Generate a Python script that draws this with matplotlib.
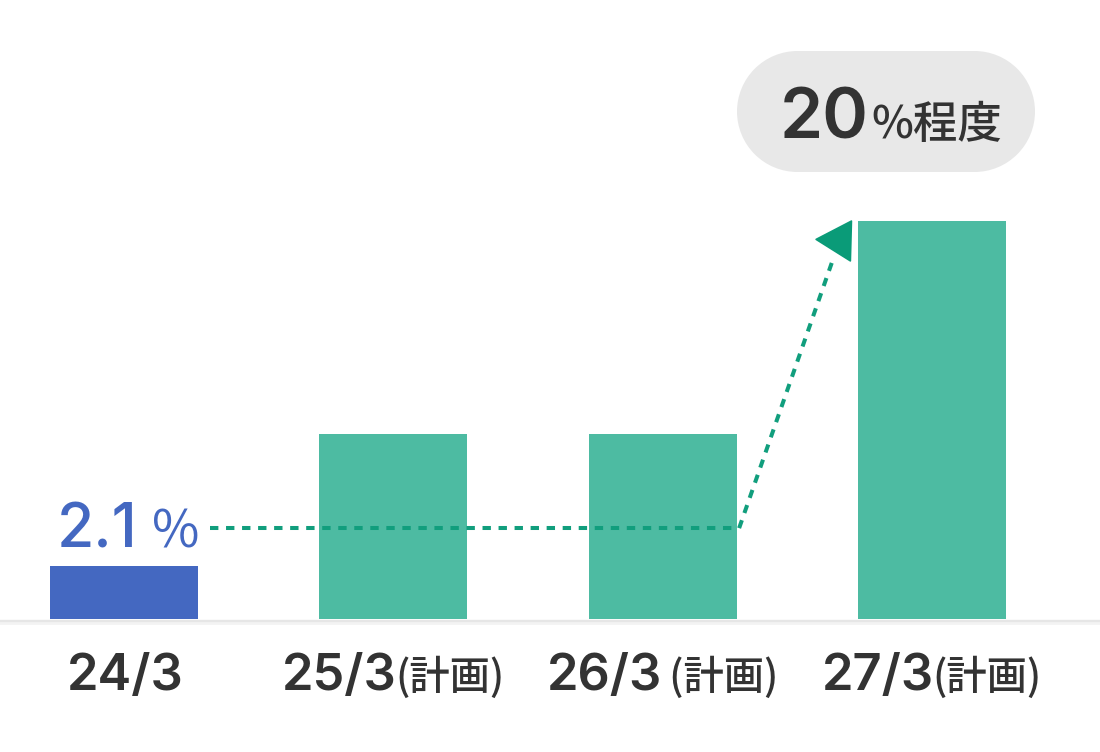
import matplotlib
matplotlib.use("Agg")
import matplotlib.pyplot as plt
from matplotlib.patches import Rectangle, Circle, Polygon

plt.rcParams['font.family'] = ['Noto Sans CJK JP', 'DejaVu Sans']
NUM_FONT = ['Inter', 'Noto Sans CJK JP', 'DejaVu Sans']
CJK_FONT = ['Noto Sans CJK JP', 'DejaVu Sans']

# ---- data ----
categories_main = ["24/3", "25/3", "26/3", "27/3"]
categories_note = ["", "(計画)", " (計画)", "(計画)"]
bar_values = [2.66, 9.3, 9.3, 20.0]          # schematic heights
bar_colors = ["#4468C1", "#4DBBA2", "#4DBBA2", "#4DBBA2"]
start_label_num = "2.1"
target_label_num = "20"
pct_sign = "%"
target_suffix = "%程度"

TEXT = "#333333"
DASH = "#119E7D"

fig = plt.figure(figsize=(11, 7.52), dpi=100)
ax = fig.add_axes([0, 0, 1, 1])
ax.set_xlim(-0.4605, 3.624)
ax.set_ylim(-6.68, 31.11)
ax.axis("off")

x = list(range(len(categories_main)))
bw = 0.55
ax.bar(x, bar_values, width=bw, color=bar_colors, zorder=2)

# baseline
ax.axhline(-0.09, color="#E6E6E6", lw=2.4, zorder=1)
ax.axhline(-0.22, color="#F3F3F3", lw=2.0, zorder=1)

fig.canvas.draw()
renderer = fig.canvas.get_renderer()


def two_part(xc, y, p1, s1, p2, s2, color, gap=0, w1="semibold", w2="medium",
             f1=NUM_FONT, f2=CJK_FONT):
    t1 = ax.text(xc, y, p1, fontsize=s1, color=color, ha="left", va="baseline",
                 fontweight=w1, family=f1, zorder=5)
    t2 = ax.text(xc, y, p2, fontsize=s2, color=color, ha="left", va="baseline",
                 fontweight=w2, family=f2, zorder=5)
    e1 = t1.get_window_extent(renderer).width if p1 else 0
    e2 = t2.get_window_extent(renderer).width if p2 else 0
    xd, yd = ax.transData.transform((xc, y))
    start = xd - (e1 + gap + e2) / 2
    inv = ax.transData.inverted()
    t1.set_x(inv.transform((start, yd))[0])
    t2.set_x(inv.transform((start + e1 + gap, yd))[0])
    return t1, t2


# category labels
for i in x:
    two_part(i, -3.57, categories_main[i], 36.5, categories_note[i], 29, TEXT, gap=-2)

# 2.1% label above first bar
two_part(x[0] + 0.015, 3.62, start_label_num, 43.5, pct_sign, 37, bar_colors[0], gap=14,
         w1="medium", w2="normal")

# dashed path
y_line = 4.57
dash_style = (0, (2.08, 1.9))
x_corner = x[2] + bw / 2 + 0.009
ax.plot([x[0] + 0.32, x_corner], [y_line, y_line],
        color=DASH, lw=2.9, linestyle=dash_style, dash_capstyle="butt", zorder=3)
ax.plot([x_corner, x[3] - bw / 2 - 0.096], [y_line, bar_values[3] - 2.06],
        color=DASH, lw=2.9, linestyle=dash_style, dash_capstyle="butt", zorder=3)

# arrow head near top-left of last bar
left4 = x[3] - bw / 2
tri = Polygon([[left4 - 0.155, bar_values[3] - 0.92],
               [left4 - 0.024, bar_values[3]],
               [left4 - 0.028, bar_values[3] - 2.0]],
              closed=True, facecolor="#0A9B78", edgecolor="#0A9B78",
              lw=1.2, joinstyle="round", zorder=4)
ax.add_patch(tri)

# pill callout (inches, figure coordinates)
px0, py0, pw, ph = 7.37, 5.80, 2.98, 1.21
r = ph / 2
pill_kw = dict(transform=fig.dpi_scale_trans, facecolor="#E8E8E8",
               edgecolor="none", zorder=3)
ax.add_patch(Rectangle((px0 + r, py0), pw - 2 * r, ph, **pill_kw))
ax.add_patch(Circle((px0 + r, py0 + r), r, **pill_kw))
ax.add_patch(Circle((px0 + pw - r, py0 + r), r, **pill_kw))

t1 = ax.text(0, 24.17, target_label_num, fontsize=50, color=TEXT, family=NUM_FONT,
             ha="left", va="baseline", fontweight="semibold", zorder=5)
t2 = ax.text(0, 24.17, target_suffix, fontsize=32, color=TEXT, family=CJK_FONT,
             ha="left", va="baseline", fontweight="medium", zorder=5)
e1 = t1.get_window_extent(renderer).width
e2 = t2.get_window_extent(renderer).width
inv = ax.transData.inverted()
cx = 891
gap = 3
s = cx - (e1 + gap + e2) / 2
t1.set_x(inv.transform((s, 0))[0])
t2.set_x(inv.transform((s + e1 + gap, 0))[0])

fig.savefig("out.png", dpi=100)
